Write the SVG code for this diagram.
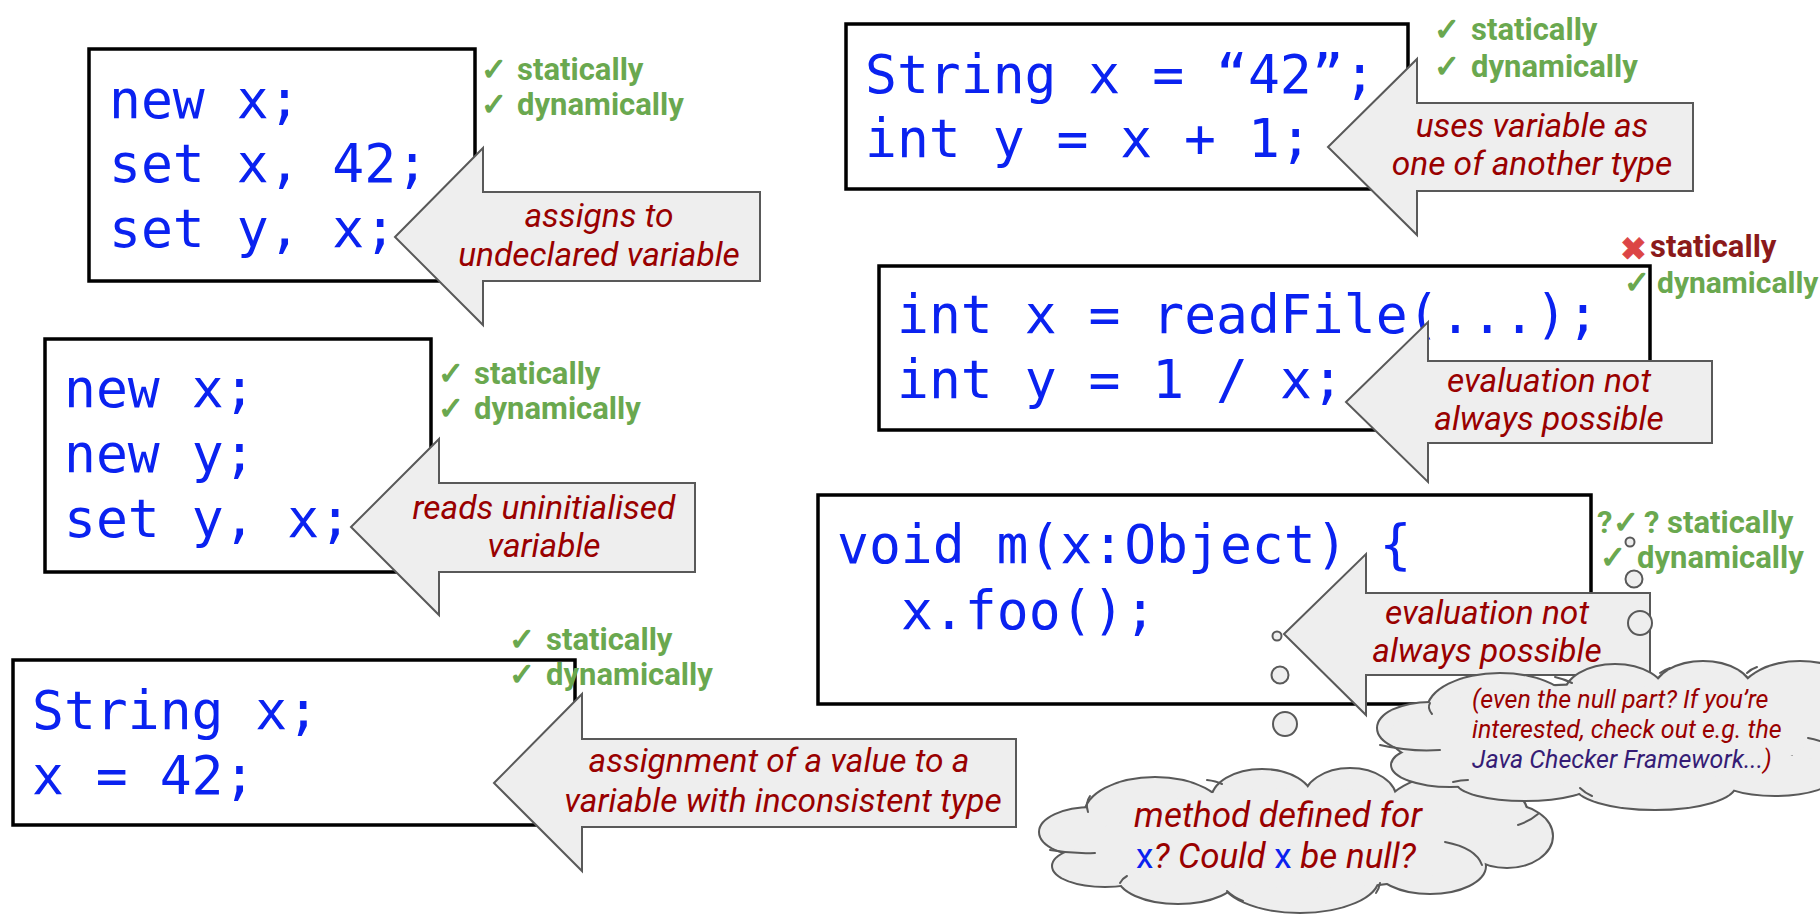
<svg xmlns="http://www.w3.org/2000/svg" xmlns:xlink="http://www.w3.org/1999/xlink" width="1820" height="914" viewBox="0 0 1820 914">
<style>
.box{fill:#fff;stroke:#000;stroke-width:3.5}
.code{font-family:"DejaVu Sans Mono","Liberation Mono",monospace;font-size:53px;fill:#0a22f0}
.arrow{fill:#eeeeee;stroke:#595959;stroke-width:2;stroke-linejoin:miter}
.lbl{font-family:Roboto,"Liberation Sans",sans-serif;font-style:italic;font-size:33.5px;fill:#990000;text-anchor:middle}
.chk{font-family:Roboto,"Liberation Sans",sans-serif;font-weight:bold;font-size:31px;fill:#6aa84f}
.ck{font-family:"DejaVu Sans",sans-serif;font-weight:normal;font-size:31px;stroke:#6aa84f;stroke-width:1.3}
.bad{fill:#8b1a1a}
.xm{font-family:"DejaVu Sans",sans-serif;font-weight:normal;font-size:32px;fill:#dc4545;stroke:#dc4545;stroke-width:0.8}
.bub{fill:#eeeeee;stroke:#595959;stroke-width:2}
.cloudOut{fill:#eeeeee;stroke:#595959;stroke-width:4}
.cloudIn{fill:#eeeeee;stroke:none}
.inner{fill:none;stroke:#595959;stroke-width:2;stroke-linecap:round}
.ctext{font-family:Roboto,"Liberation Sans",sans-serif;font-style:italic;fill:#990000}
.blue{fill:#0a22f0;font-style:normal}
.jv{fill:#351c75}
</style>
<defs>
<g id="cloud2shape">
<ellipse cx="1092" cy="832" rx="52" ry="24"/>
<ellipse cx="1105" cy="866" rx="52" ry="20"/>
<ellipse cx="1155" cy="815" rx="70" ry="37"/>
<ellipse cx="1262" cy="800" rx="50" ry="30"/>
<ellipse cx="1350" cy="800" rx="46" ry="31"/>
<ellipse cx="1455" cy="815" rx="72" ry="40"/>
<ellipse cx="1507" cy="836" rx="45" ry="31"/>
<ellipse cx="1430" cy="866" rx="55" ry="27"/>
<ellipse cx="1300" cy="878" rx="78" ry="34"/>
<ellipse cx="1178" cy="876" rx="60" ry="27"/>
<ellipse cx="1300" cy="838" rx="200" ry="50"/>
</g>
<g id="cloud1shape">
<ellipse cx="1430" cy="728" rx="52" ry="25"/>
<ellipse cx="1450" cy="765" rx="58" ry="21"/>
<ellipse cx="1500" cy="710" rx="72" ry="36"/>
<ellipse cx="1615" cy="695" rx="50" ry="30"/>
<ellipse cx="1703" cy="690" rx="48" ry="28"/>
<ellipse cx="1800" cy="700" rx="62" ry="38"/>
<ellipse cx="1830" cy="740" rx="40" ry="45"/>
<ellipse cx="1775" cy="775" rx="60" ry="20"/>
<ellipse cx="1655" cy="785" rx="80" ry="24"/>
<ellipse cx="1525" cy="782" rx="68" ry="18"/>
<ellipse cx="1600" cy="735" rx="210" ry="50"/>
</g>
</defs>
<rect width="1820" height="914" fill="#fff"/>

<g id="box1">
<rect class="box" x="89" y="49" width="386" height="232"/>
<text class="code" x="109" y="118">new x;</text>
<text class="code" x="109" y="182">set x, 42;</text>
<text class="code" x="109" y="247">set y, x;</text>
</g>
<g id="box2">
<rect class="box" x="45" y="339" width="386" height="233"/>
<text class="code" x="64" y="407">new x;</text>
<text class="code" x="64" y="472">new y;</text>
<text class="code" x="64" y="537">set y, x;</text>
</g>
<g id="box3">
<rect class="box" x="13" y="660" width="562" height="165"/>
<text class="code" x="32" y="729">String x;</text>
<text class="code" x="32" y="794">x = 42;</text>
</g>
<g id="box4">
<rect class="box" x="846" y="24" width="562" height="165"/>
<text class="code" x="865" y="93">String x = “42”;</text>
<text class="code" x="865" y="157">int y = x + 1;</text>
</g>
<g id="box5">
<rect class="box" x="879" y="266" width="771" height="164"/>
<text class="code" x="897" y="333">int x = readFile(...);</text>
<text class="code" x="897" y="398">int y = 1 / x;</text>
</g>
<g id="box6">
<rect class="box" x="818" y="495" width="773" height="209"/>
<text class="code" x="837" y="563">void m(x:Object) {</text>
<text class="code" x="901" y="629">x.foo();</text>
</g>

<g id="arrow1">
<polygon class="arrow" points="395,237 483,148 483,192 760,192 760,281 483,281 483,325"/>
<text class="lbl" x="599" y="227">assigns to</text>
<text class="lbl" x="599" y="266">undeclared variable</text>
</g>
<g id="arrow2">
<polygon class="arrow" points="351,527 439,439 439,483 695,483 695,572 439,572 439,615"/>
<text class="lbl" x="544" y="519">reads uninitialised</text>
<text class="lbl" x="544" y="557">variable</text>
</g>
<g id="arrow3">
<polygon class="arrow" points="494,783 582,694 582,739 1016,739 1016,827 582,827 582,871"/>
<text class="lbl" x="779" y="772">assignment of a value to a</text>
<text class="lbl" x="783" y="812">variable with inconsistent type</text>
</g>
<g id="arrow4">
<polygon class="arrow" points="1328,147 1417,59 1417,103 1693,103 1693,191 1417,191 1417,235"/>
<text class="lbl" x="1532" y="137">uses variable as</text>
<text class="lbl" x="1532" y="175">one of another type</text>
</g>
<g id="arrow5">
<polygon class="arrow" points="1346,402 1428,322 1428,361 1712,361 1712,443 1428,443 1428,482"/>
<text class="lbl" x="1549" y="392">evaluation not</text>
<text class="lbl" x="1549" y="430">always possible</text>
</g>
<g id="arrow6">
<polygon class="arrow" points="1284,634 1366,554 1366,593 1650,593 1650,675 1366,675 1366,715"/>
<text class="lbl" x="1487" y="624">evaluation not</text>
<text class="lbl" x="1487" y="662">always possible</text>
</g>

<g id="connectors">
<circle class="bub" cx="1277" cy="636" r="4.5"/>
<circle class="bub" cx="1280" cy="675" r="8.5"/>
<circle class="bub" cx="1285" cy="724" r="12"/>
<circle class="bub" cx="1630" cy="542" r="4.5"/>
<circle class="bub" cx="1634" cy="579" r="8.5"/>
<circle class="bub" cx="1640" cy="623" r="12"/>
</g>

<g id="checks1">
<text class="chk" y="80"><tspan class="ck" x="481">✓</tspan><tspan x="517">statically</tspan></text>
<text class="chk" y="115"><tspan class="ck" x="481">✓</tspan><tspan x="517">dynamically</tspan></text>
</g>
<g id="checks2">
<text class="chk" y="384"><tspan class="ck" x="438">✓</tspan><tspan x="474">statically</tspan></text>
<text class="chk" y="419"><tspan class="ck" x="438">✓</tspan><tspan x="474">dynamically</tspan></text>
</g>
<g id="checks3">
<text class="chk" y="650"><tspan class="ck" x="509">✓</tspan><tspan x="546">statically</tspan></text>
<text class="chk" y="685"><tspan class="ck" x="509">✓</tspan><tspan x="546">dynamically</tspan></text>
</g>
<g id="checks4">
<text class="chk" y="40"><tspan class="ck" x="1434">✓</tspan><tspan x="1471">statically</tspan></text>
<text class="chk" y="77"><tspan class="ck" x="1434">✓</tspan><tspan x="1471">dynamically</tspan></text>
</g>
<g id="checks5">
<text class="xm" x="1620" y="260">✖</text>
<text class="chk bad" x="1650" y="257">statically</text>
<text class="chk" y="293"><tspan class="ck" x="1624">✓</tspan><tspan x="1657" font-size="30">dynamically</tspan></text>
</g>
<g id="checks6">
<text class="chk" y="533"><tspan x="1597">?</tspan><tspan class="ck" x="1613">✓</tspan><tspan x="1644">?</tspan><tspan x="1667">statically</tspan></text>
<text class="chk" y="568"><tspan class="ck" x="1600">✓</tspan><tspan x="1637">dynamically</tspan></text>
</g>

<g id="cloud2">
<use xlink:href="#cloud2shape" class="cloudOut"/>
<use xlink:href="#cloud2shape" class="cloudIn"/>
<path class="inner" d="M1088,812 Q1085,803 1090,796"/>
<path class="inner" d="M1050,850 Q1072,854 1095,853"/>
<path class="inner" d="M1207,780 Q1216,781 1222,784"/>
<path class="inner" d="M1518,825 Q1530,821 1538,814"/>
<path class="inner" d="M1445,842 Q1476,848 1482,865"/>
<path class="inner" d="M1380,883 Q1379,889 1376,893"/>
<path class="inner" d="M1227,891 Q1233,897 1243,901"/>
<path class="inner" d="M1120,883 Q1123,878 1127,876"/>
<text class="ctext" font-size="35" text-anchor="middle" x="1278" y="827">method defined for</text>
<text class="ctext" font-size="35" text-anchor="middle" x="1276" y="868"><tspan class="blue">x</tspan>? Could <tspan class="blue">x</tspan> be null?</text>
</g>
<g id="cloud1">
<use xlink:href="#cloud1shape" class="cloudOut"/>
<use xlink:href="#cloud1shape" class="cloudIn"/>
<path class="inner" d="M1430,703 Q1427,708 1432,714"/>
<path class="inner" d="M1380,745 Q1410,752 1440,750"/>
<path class="inner" d="M1453,782 Q1461,780 1468,780"/>
<path class="inner" d="M1555,677 Q1564,679 1572,683"/>
<path class="inner" d="M1660,673 Q1664,670 1670,668"/>
<path class="inner" d="M1747,673 Q1751,669 1757,667"/>
<path class="inner" d="M1808,738 Q1814,739 1820,741"/>
<path class="inner" d="M1580,788 Q1585,793 1592,796"/>
<text class="ctext" font-size="25" x="1472" y="708">(even the null part? If you’re</text>
<text class="ctext" font-size="25" x="1472" y="738">interested, check out e.g. the</text>
<text class="ctext" font-size="25" x="1472" y="768"><tspan class="jv">Java Checker Framework...</tspan>)</text>
</g>
</svg>
